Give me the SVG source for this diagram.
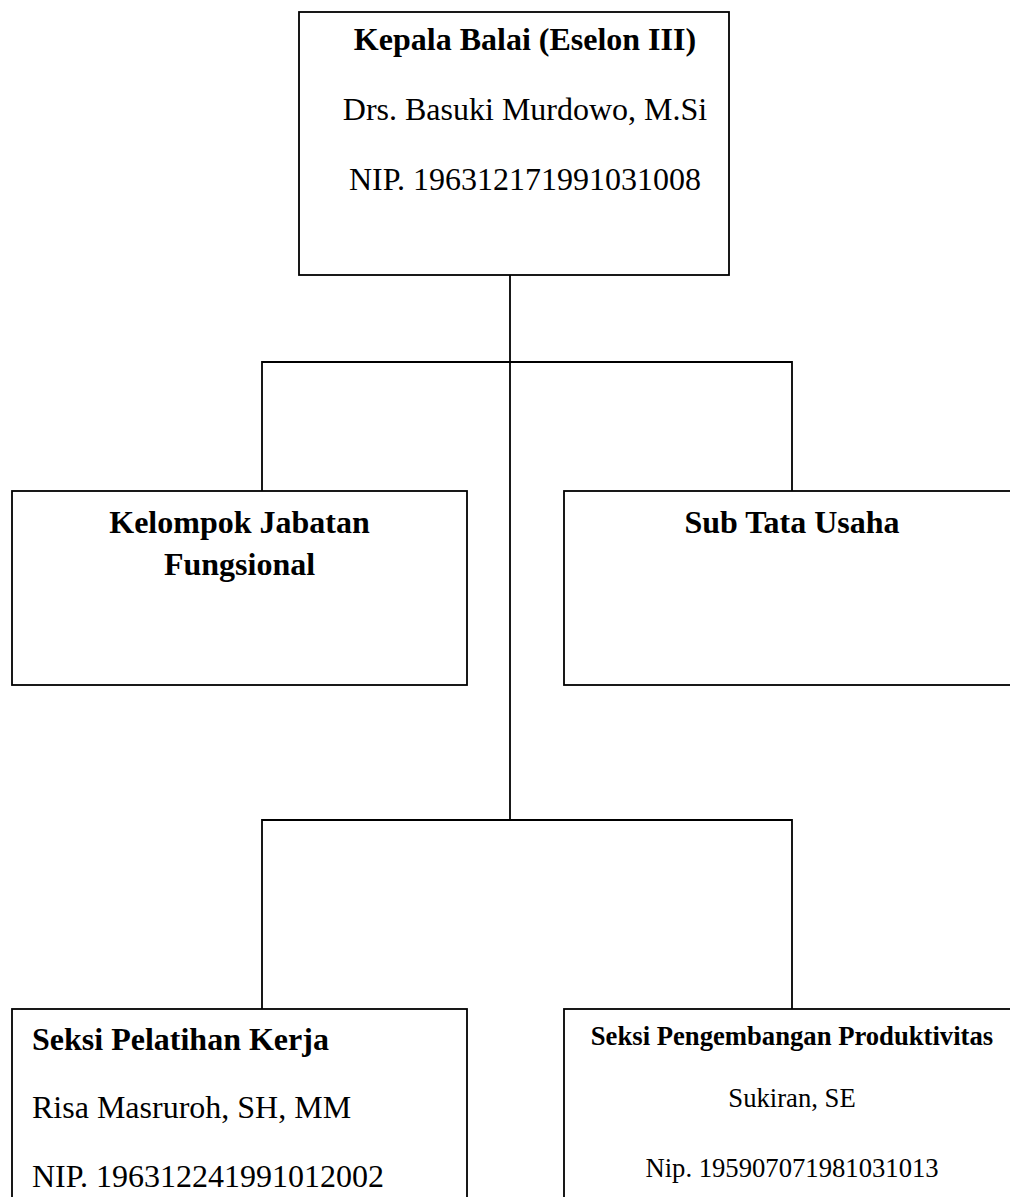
<svg xmlns="http://www.w3.org/2000/svg" width="1010" height="1197" viewBox="0 0 1010 1197">
  <style>
    .box { fill: #ffffff; stroke: #000000; stroke-width: 1.8; }
    .conn { fill: none; stroke: #000000; stroke-width: 1.8; }
    .t { font-family: "Liberation Serif", "Times New Roman", serif; fill: #000000; }
    .b { font-weight: bold; }
    .big { font-size: 32px; }
    .small { font-size: 26.67px; }
    .mid { text-anchor: middle; }
  </style>
  <rect x="0" y="0" width="1010" height="1197" fill="#ffffff"/>
  <g id="connectors">
    <path class="conn" d="M510 275 V820"/>
    <path class="conn" d="M262 491 V362 H792 V491"/>
    <path class="conn" d="M262 1009 V820 H792 V1009"/>
  </g>
  <g id="node-kepala">
    <rect class="box" x="299" y="12" width="430" height="263"/>
    <text class="t b big mid" x="525" y="50">Kepala Balai (Eselon III)</text>
    <text class="t big mid" x="525" y="120">Drs. Basuki Murdowo, M.Si</text>
    <text class="t big mid" x="525" y="190">NIP. 196312171991031008</text>
  </g>
  <g id="node-fungsional">
    <rect class="box" x="12" y="491" width="455" height="194"/>
    <text class="t b big mid" x="239.5" y="533">Kelompok Jabatan</text>
    <text class="t b big mid" x="239.5" y="575">Fungsional</text>
  </g>
  <g id="node-tatausaha">
    <rect class="box" x="564" y="491" width="460" height="194"/>
    <text class="t b big mid" x="792" y="533">Sub Tata Usaha</text>
  </g>
  <g id="node-pelatihan">
    <rect class="box" x="12" y="1009" width="455" height="200"/>
    <text class="t b big" x="32" y="1050">Seksi Pelatihan Kerja</text>
    <text class="t big" x="32" y="1118">Risa Masruroh, SH, MM</text>
    <text class="t big" x="32" y="1187">NIP. 196312241991012002</text>
  </g>
  <g id="node-produktivitas">
    <rect class="box" x="564" y="1009" width="460" height="200"/>
    <text class="t b small mid" x="792" y="1045">Seksi Pengembangan Produktivitas</text>
    <text class="t small mid" x="792" y="1107">Sukiran, SE</text>
    <text class="t small mid" x="792" y="1177">Nip. 195907071981031013</text>
  </g>
</svg>
